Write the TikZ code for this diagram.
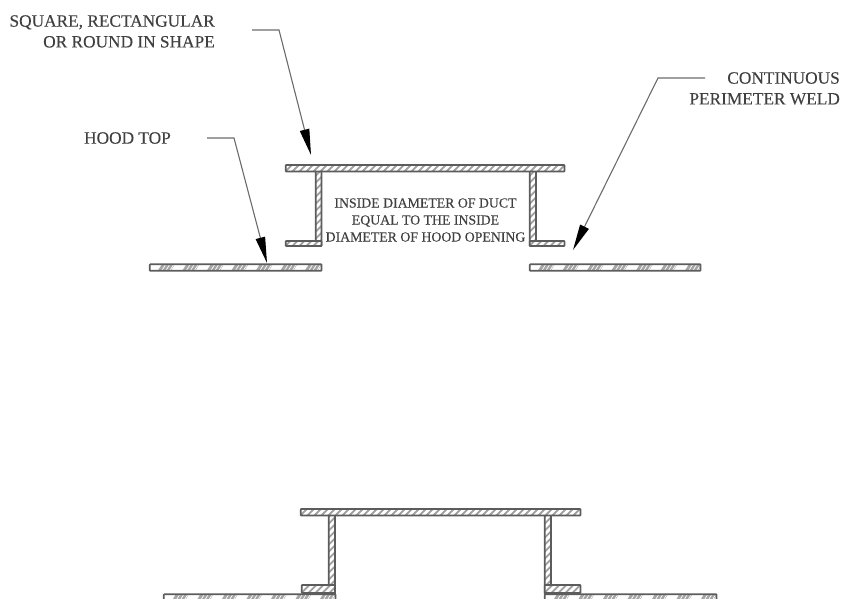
\documentclass[tikz,border=0pt]{standalone}
\usepackage{fontspec}
\setmainfont{Liberation Serif}
\usetikzlibrary{arrows.meta}
\definecolor{ink}{gray}{0.25}
\definecolor{lead}{gray}{0.42}
\tikzset{
  x=1pt,y=-1pt,
  sect/.style={draw=ink!85,line width=1.7pt,rounded corners=0.6pt},
  leader/.style={draw=lead,line width=1.1pt,-{Stealth[length=26pt,width=9.5pt,inset=0pt,black]}},
  biglabel/.style={align=right,font=\fontsize{17.3}{20.8}\selectfont\addfontfeature{FakeBold=0.25},text=ink,inner sep=0pt,anchor=north east},
  smalllabel/.style={align=center,font=\fontsize{13.8}{17}\selectfont\addfontfeature{FakeBold=0.25},text=ink,inner sep=0pt}
}
% plate with even 45-degree hatching: x1,y1,x2,y2
\newcommand{\hatchplate}[4]{%
  \begin{scope}
    \clip (#1,#2) rectangle (#3,#4);
    \fill[gray!75] (#1,#2) rectangle (#3,#4);
    \foreach \k in {-130,-123,...,300}{%
      \draw[white,line width=2.8pt] ({#1+\k},#4) -- ({#1+\k+(#4-#2)},#2);
    }
  \end{scope}
  \draw[sect] (#1,#2) rectangle (#3,#4);
}
% hood plate: long white slashes with short dense hatch between
\newcommand{\hoodplate}[5]{%
  \begin{scope}
    \clip (#1,#2) rectangle (#3,#4);
    \fill[white] (#1,#2) rectangle (#3,#4);
    \foreach \k in {0,24.5,...,220}{%
      \fill[gray!70] ({#1+#5+\k+8},#4) -- ({#1+#5+\k+12},#2) -- ({#1+#5+\k+25},#2) -- ({#1+#5+\k+21},#4) -- cycle;
      \foreach \m in {12,16,20}{%
        \draw[white,line width=0.7pt] ({#1+#5+\k+\m},#4) -- ({#1+#5+\k+\m+4},#2);
      }
    }
  \end{scope}
  \draw[sect] (#1,#2) rectangle (#3,#4);
}
\begin{document}
\begin{tikzpicture}
\useasboundingbox (0,0) rectangle (843,598);
% labels
\node[biglabel] (sq) at (215,15) {SQUARE, RECTANGULAR\\OR ROUND IN SHAPE};
\node[biglabel] (ht) at (171,132) {HOOD TOP};
\node[biglabel] (cp) at (840,72) {CONTINUOUS\\PERIMETER WELD};
\node[smalllabel] (in) at (425.5,220) {INSIDE DIAMETER OF DUCT\\EQUAL TO THE INSIDE\\DIAMETER OF HOOD OPENING};
% upper section
\hatchplate{315.8}{171}{321.5}{246}
\hatchplate{529.8}{171}{536}{246}
\hatchplate{285.8}{241}{321.5}{246}
\hatchplate{529.8}{241}{564.5}{246}
\hatchplate{285.8}{165}{564.5}{171.5}
\hoodplate{149.8}{264.3}{321.5}{270.7}{0}
\hoodplate{529.8}{264.3}{700.5}{270.7}{0}
% leaders
\coordinate (a0) at (252,30); \coordinate (a1) at (279,30); \coordinate (a2) at (311,155);
\coordinate (b0) at (207,138); \coordinate (b1) at (234,138); \coordinate (b2) at (267,263);
\coordinate (c0) at (705,78); \coordinate (c1) at (658,78); \coordinate (c2) at (573,250);
\draw[leader] (a0) -- (a1) -- (a2);
\draw[leader] (b0) -- (b1) -- (b2);
\draw[leader] (c0) -- (c1) -- (c2);
% lower section
\hatchplate{328.8}{515}{335}{594}
\hatchplate{544.8}{515}{551}{594}
\hatchplate{301.8}{585}{335}{593}
\hatchplate{544.8}{585}{580.5}{593}
\hatchplate{300.8}{509}{580.5}{515.5}
\hoodplate{163.8}{594.3}{335.5}{601}{0}
\hoodplate{544.8}{594.3}{716.5}{601}{0}
\end{tikzpicture}
\end{document}
